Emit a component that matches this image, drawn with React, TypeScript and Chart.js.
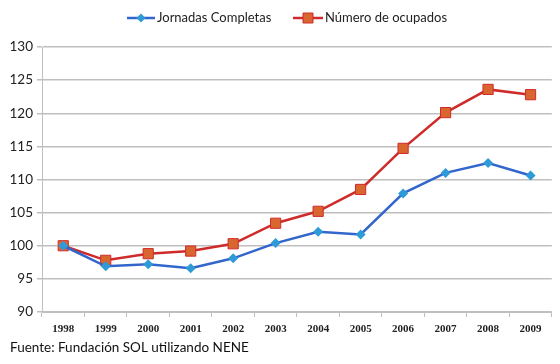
import React, { useEffect, useRef } from "react";
import { Chart, registerables } from "chart.js";

Chart.register(...registerables);

const years = ["1998","1999","2000","2001","2002","2003","2004","2005","2006","2007","2008","2009"];
const jornadas = [100, 96.9, 97.2, 96.6, 98.1, 100.4, 102.1, 101.7, 107.9, 111.0, 112.5, 110.6];
const ocupados = [100, 97.8, 98.8, 99.2, 100.3, 103.4, 105.2, 108.5, 114.7, 120.1, 123.6, 122.8];
const yTicks = [90, 95, 100, 105, 110, 115, 120, 125, 130];
const seriesNames = ["Jornadas Completas", "Número de ocupados"];
const footnote = "Fuente: Fundación SOL utilizando NENE";

const BLUE_LINE = "#3366cc";
const BLUE_MARK = "#2e9bd8";
const RED_LINE = "#d02b2b";
const RED_MARK = "#d9662e";
const GRID = "#bfbfbf";

const legendPlugin = {
  id: "customLegend",
  afterDraw(chart: any) {
    const ctx = chart.ctx;
    ctx.save();
    const y = 18;
    const items = [
      { x0: 127, x1: 155, tx: 157, line: BLUE_LINE, mark: BLUE_MARK, style: "diamond", text: seriesNames[0] },
      { x0: 293, x1: 323, tx: 325, line: RED_LINE, mark: RED_MARK, style: "square", text: seriesNames[1] },
    ];
    for (const it of items) {
      ctx.strokeStyle = it.line;
      ctx.lineWidth = 2.5;
      ctx.beginPath();
      ctx.moveTo(it.x0, y);
      ctx.lineTo(it.x1, y);
      ctx.stroke();
      const cx = (it.x0 + it.x1) / 2;
      ctx.fillStyle = it.mark;
      ctx.beginPath();
      if (it.style === "diamond") {
        ctx.moveTo(cx, y - 4.5);
        ctx.lineTo(cx + 4.5, y);
        ctx.lineTo(cx, y + 4.5);
        ctx.lineTo(cx - 4.5, y);
        ctx.closePath();
        ctx.fill();
      } else {
        ctx.rect(cx - 5, y - 5, 10, 10);
        ctx.fill();
        ctx.strokeStyle = RED_LINE;
        ctx.lineWidth = 1;
        ctx.stroke();
      }
      ctx.fillStyle = "#222";
      ctx.font = "13px Lato, sans-serif";
      ctx.textBaseline = "middle";
      ctx.textAlign = "left";
      ctx.fillText(it.text, it.tx, y);
    }
    ctx.font = "13.5px Lato, sans-serif";
    ctx.fillStyle = "#111";
    ctx.textBaseline = "middle";
    ctx.fillText(footnote, 10, 348);
    ctx.restore();
  },
};

export default function App() {
  const ref = useRef<HTMLCanvasElement>(null);
  useEffect(() => {
    if (!ref.current) return;
    const chart = new Chart(ref.current, {
      type: "line",
      data: {
        labels: years,
        datasets: [
          {
            label: seriesNames[0],
            data: jornadas,
            borderColor: BLUE_LINE,
            backgroundColor: BLUE_MARK,
            borderWidth: 2.5,
            pointStyle: "rectRot",
            pointRadius: 5,
            pointBackgroundColor: BLUE_MARK,
            pointBorderColor: BLUE_MARK,
            pointBorderWidth: 0,
            tension: 0,
          },
          {
            label: seriesNames[1],
            data: ocupados,
            borderColor: RED_LINE,
            backgroundColor: RED_MARK,
            borderWidth: 2.5,
            pointStyle: "rect",
            pointRadius: 7.2,
            pointBackgroundColor: RED_MARK,
            pointBorderColor: RED_LINE,
            pointBorderWidth: 1,
            tension: 0,
          },
        ],
      },
      options: {
        responsive: false,
        animation: false,
        layout: { padding: { top: 47, right: 3, left: 0, bottom: 0 } },
        plugins: { legend: { display: false }, tooltip: { enabled: false } },
        scales: {
          x: {
            offset: true,
            grid: { offset: true, drawOnChartArea: false, color: GRID, tickLength: 5 },
            border: { color: GRID },
            ticks: {
              color: "#222",
              font: { family: "'Liberation Serif', serif", size: 11, weight: "bold" },
              padding: 6,
              maxRotation: 0,
            },
            afterFit(scale: any) { scale.height = 52; },
          },
          y: {
            min: 90,
            max: 130,
            afterBuildTicks(scale: any) { scale.ticks = yTicks.map((v) => ({ value: v })); },
            grid: { color: GRID, tickLength: 5, lineWidth: 1.5 },
            border: { color: GRID },
            ticks: {
              color: "#222",
              font: { family: "Lato, sans-serif", size: 13.5 },
              padding: 4,
            },
            afterFit(scale: any) { scale.width = 42; },
          },
        },
      },
      plugins: [legendPlugin],
    });
    return () => chart.destroy();
  }, []);
  return (
    <div style={{ position: "fixed", left: 0, top: 0, width: 560, height: 364, background: "#fff" }}>
      <canvas ref={ref} width={560} height={364} />
    </div>
  );
}
